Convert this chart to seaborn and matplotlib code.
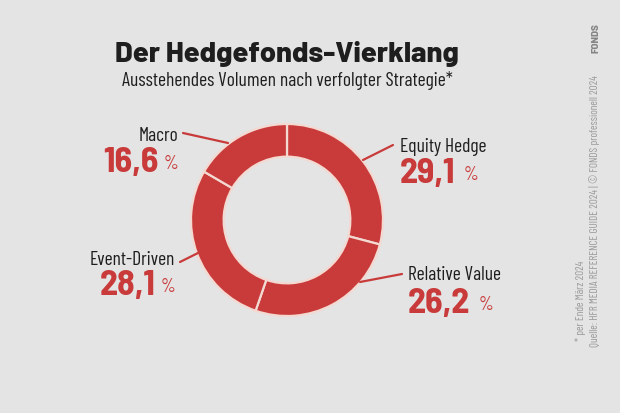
import matplotlib
matplotlib.use("Agg")
import matplotlib.pyplot as plt
import seaborn as sns
from matplotlib import font_manager as fm
from matplotlib.lines import Line2D

# chart data
strategies = ["Equity Hedge", "Relative Value", "Event-Driven", "Macro"]
shares = [29.1, 26.2, 28.1, 16.6]

title = "Der Hedgefonds-Vierklang"
subtitle = "Ausstehendes Volumen nach verfolgter Strategie*"
footnote = "* per Ende März 2024"
source = "Quelle: HFR MEDIA REFERENCE GUIDE 2024 | © FONDS professionell 2024"

BG = "#e4e4e4"
RED = "#c83b3a"
DARK = "#1e1e1e"
GREY = "#9a9a9a"

# pick the DIN-like families that are installed
installed = {f.name for f in fm.fontManager.ttflist}
cond = next((n for n in ["Barlow Condensed", "Roboto Condensed", "DIN Condensed",
                         "Barlow Semi Condensed", "IBM Plex Sans Condensed"]
             if n in installed), "DejaVu Sans")
semi = next((n for n in ["Barlow Semi Condensed", cond] if n in installed), cond)
head = next((n for n in ["Barlow", "Roboto", "Lato"] if n in installed), "DejaVu Sans")
COND = [cond, "DejaVu Sans"]
SEMI = [semi, "DejaVu Sans"]
HEAD = [head, "DejaVu Sans"]

sns.set_theme(style="white", rc={"figure.facecolor": BG, "axes.facecolor": BG})
plt.rcParams["font.family"] = COND

W, H = 620, 413
fig = plt.figure(figsize=(6.2, 4.13), dpi=100)
renderer = fig.canvas.get_renderer()


def px(x, y):
    return x / W, 1 - y / H


def width_px(t):
    bb = t.get_window_extent(renderer=renderer)
    return bb.x1 - bb.x0


def fit(t, target):
    # scale a text so that its width matches the reference
    t.set_fontsize(t.get_fontsize() * target / width_px(t))


# donut: centre (287, 220), radius 96 px
cx, cy, r = 287, 220, 96
ax = fig.add_axes([(cx - r) / W, (H - cy - r) / H, 2 * r / W, 2 * r / H])
ax.pie(shares, colors=[RED] * len(shares), startangle=90, counterclock=False,
       radius=1, wedgeprops=dict(width=0.34, edgecolor="#f3d9d2", linewidth=1.6))
ax.set_xlim(-1, 1)
ax.set_ylim(-1, 1)
ax.set_aspect("equal")
ax.axis("off")

# title block
ttl = fig.text(*px(287, 62), title, ha="center", va="baseline", fontsize=20,
               fontweight="heavy", color=DARK, family=HEAD)
fit(ttl, 343)
sub = fig.text(*px(287, 86), subtitle, ha="center", va="baseline", fontsize=14, color=DARK)
fit(sub, 330)

# label layout: (name x, name y, side, number baseline y, line from, line to)
layout = {
    "Equity Hedge": (400, 152, "left", 183, (393, 145), (363, 160)),
    "Relative Value": (408, 280, "left", 313, (402, 274), (360, 282)),
    "Event-Driven": (175, 265, "right", 295, (180, 262), (198, 253)),
    "Macro": (178, 141, "right", 172, (183, 133), (228, 143)),
}

for name, val in zip(strategies, shares):
    nx, ny, side, vy, p0, p1 = layout[name]
    num = f"{val:.1f}".replace(".", ",")
    fig.text(*px(nx, ny), name, ha=side, va="baseline", fontsize=14, color=DARK)
    if side == "left":
        t = fig.text(*px(nx, vy), num, ha="left", va="baseline", fontsize=26,
                     fontweight="bold", color=RED, family=SEMI)
        fig.text(*px(nx + width_px(t) + 8, vy - 3), "%", ha="left", va="baseline",
                 fontsize=13.5, color=RED)
    else:
        p = fig.text(*px(nx, vy - 3), "%", ha="right", va="baseline",
                     fontsize=13.5, color=RED)
        fig.text(*px(nx - width_px(p) - 5, vy), num, ha="right", va="baseline",
                 fontsize=26, fontweight="bold", color=RED, family=SEMI)
    x0, y0 = px(*p0)
    x1, y1 = px(*p1)
    fig.add_artist(Line2D([x0, x1], [y0, y1], transform=fig.transFigure,
                          color=RED, linewidth=1.6))

# side notes
fig.text(*px(580, 341), footnote, rotation=90, ha="center", va="bottom",
         fontsize=8, color=GREY)
fig.text(*px(595, 347), source, rotation=90, ha="center", va="bottom",
         fontsize=8, color=GREY)
fig.text(*px(596, 53), "FONDS", rotation=90, ha="center", va="bottom",
         fontsize=7, fontweight="heavy", color="#858585", family=HEAD)

fig.savefig("out.png", dpi=100, facecolor=BG)
